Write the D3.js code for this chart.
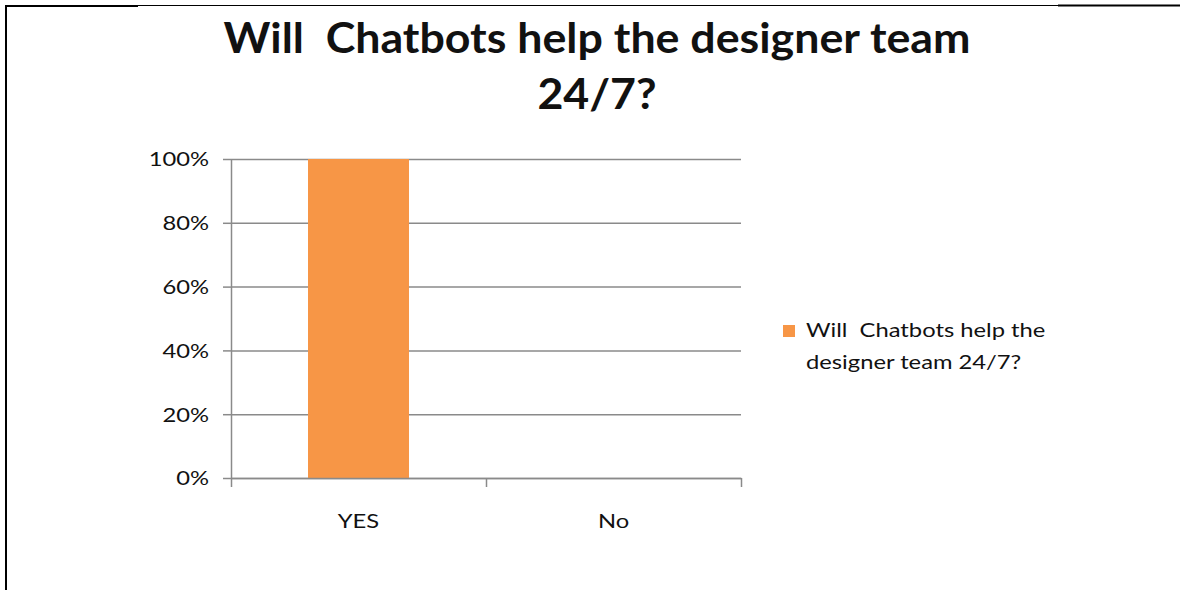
<!DOCTYPE html>
<html>
<head>
<meta charset="utf-8">
<script src="https://cdn.jsdelivr.net/npm/d3@7"></script>
<style>
  html, body { margin: 0; padding: 0; background: #fff; }
  svg { display: block; }
  text { font-family: Lato, "Open Sans", sans-serif; fill: #111; }
</style>
</head>
<body>
<svg id="chart" width="1180" height="590"></svg>
<script>
// Survey answers and their share of respondents
const categories = ["YES", "No"];
const shares = [1.0, 0.0];
const seriesName = "Will  Chatbots help the designer team 24/7?";
const titleLines = ["Will  Chatbots help the designer team", "24/7?"];
const legendLines = ["Will  Chatbots help the", "designer team 24/7?"];
const yTicks = [0, 0.2, 0.4, 0.6, 0.8, 1.0];

const W = 1180, H = 590;
const margin = { left: 231, right: 439, top: 159, bottom: 112 };
const plotW = W - margin.left - margin.right;   // 510
const plotH = H - margin.top - margin.bottom;   // ~319
const SX = 1.25;            // horizontal glyph stretch of the labels
const gridColor = "#8a8a8a";
const barColor = "#f79646";

const svg = d3.select("#chart");

// frame lines along the left and top edges
svg.append("rect").attr("x", 5).attr("y", 5).attr("width", 2).attr("height", H - 5).attr("fill", "#000");
svg.append("rect").attr("x", 5).attr("y", 5).attr("width", 133).attr("height", 2).attr("fill", "#000");
svg.append("rect").attr("x", 138).attr("y", 5).attr("width", 920).attr("height", 1).attr("fill", "#000");
svg.append("rect").attr("x", 1058).attr("y", 4.5).attr("width", W - 1058).attr("height", 2).attr("fill", "#000");

// title
const title = svg.append("g").attr("class", "title");
const titleY = [53, 109];
titleLines.forEach((line, i) => {
  title.append("text")
    .attr("text-anchor", "middle")
    .style("white-space", "pre")
    .style("font-weight", "bold")
    .style("font-size", "42px")
    .attr("transform", `translate(597,${titleY[i]})`)
    .text(line);
});
// stretch the title horizontally so its first line spans the heading width
{
  const first = title.select("text").node();
  const s = 747 / first.getComputedTextLength();
  title.selectAll("text").each(function(d, i) {
    d3.select(this).attr("transform", `translate(597,${titleY[i]}) scale(${s},1)`);
  });
}

const g = svg.append("g").attr("transform", `translate(${margin.left},${margin.top})`);

const y = d3.scaleLinear().domain([0, 1]).range([plotH, 0]);
const x = d3.scaleBand().domain(categories).range([0, plotW]).padding(0);
const xEdges = d3.scaleLinear().domain([0, categories.length]).range([0, plotW]);

// horizontal gridlines
g.append("g")
  .attr("class", "grid")
  .call(d3.axisLeft(y).tickValues(yTicks).tickSize(-plotW).tickFormat(""))
  .call(a => a.select(".domain").remove())
  .call(a => a.selectAll("line").attr("stroke", gridColor).attr("stroke-width", 1.5));

// bars
const barFrac = 0.396;
g.selectAll("rect.bar")
  .data(categories.map((c, i) => ({ c, v: shares[i] })))
  .join("rect")
  .attr("class", "bar")
  .attr("x", d => x(d.c) + x.bandwidth() * (1 - barFrac) / 2)
  .attr("width", x.bandwidth() * barFrac)
  .attr("y", d => y(d.v))
  .attr("height", d => y(0) - y(d.v))
  .attr("fill", barColor);

// y axis with percent labels
g.append("g")
  .attr("class", "y-axis")
  .call(d3.axisLeft(y).tickValues(yTicks).tickFormat(d3.format(".0%")).tickSizeInner(8).tickSizeOuter(0).tickPadding(15))
  .call(a => a.select(".domain").attr("stroke", gridColor).attr("stroke-width", 1.5))
  .call(a => a.selectAll("line").attr("stroke", gridColor).attr("stroke-width", 1.5))
  .call(a => a.selectAll("text")
      .style("font-size", "19px").attr("fill", "#111").attr("font-family", null)
      .attr("x", -22 / SX).attr("dy", "0.36em")
      .attr("transform", `scale(${SX},1)`));

// x axis line with ticks at category boundaries
g.append("g")
  .attr("class", "x-edges")
  .attr("transform", `translate(0,${plotH})`)
  .call(d3.axisBottom(xEdges).ticks(categories.length).tickSizeInner(9).tickSizeOuter(0).tickFormat(""))
  .call(a => a.select(".domain").attr("stroke", gridColor).attr("stroke-width", 1.5))
  .call(a => a.selectAll("line").attr("stroke", gridColor).attr("stroke-width", 1.5));

// category labels
g.append("g")
  .attr("class", "x-axis")
  .attr("transform", `translate(0,${plotH})`)
  .call(d3.axisBottom(x).tickSize(0).tickPadding(0))
  .call(a => a.select(".domain").remove())
  .call(a => a.selectAll("text")
      .style("font-size", "19px").attr("fill", "#111").attr("font-family", null)
      .attr("y", 0).attr("dy", 0)
      .attr("transform", `translate(0,50) scale(${SX},1)`));

// legend
const legend = svg.append("g").attr("class", "legend").attr("transform", "translate(783,325)");
legend.append("rect").attr("width", 12).attr("height", 12).attr("fill", barColor);
legendLines.forEach((line, i) => {
  legend.append("text")
    .style("white-space", "pre")
    .style("font-size", "19px")
    .attr("transform", `translate(23,${12 + i * 32}) scale(${SX},1)`)
    .text(line);
});
</script>
</body>
</html>
